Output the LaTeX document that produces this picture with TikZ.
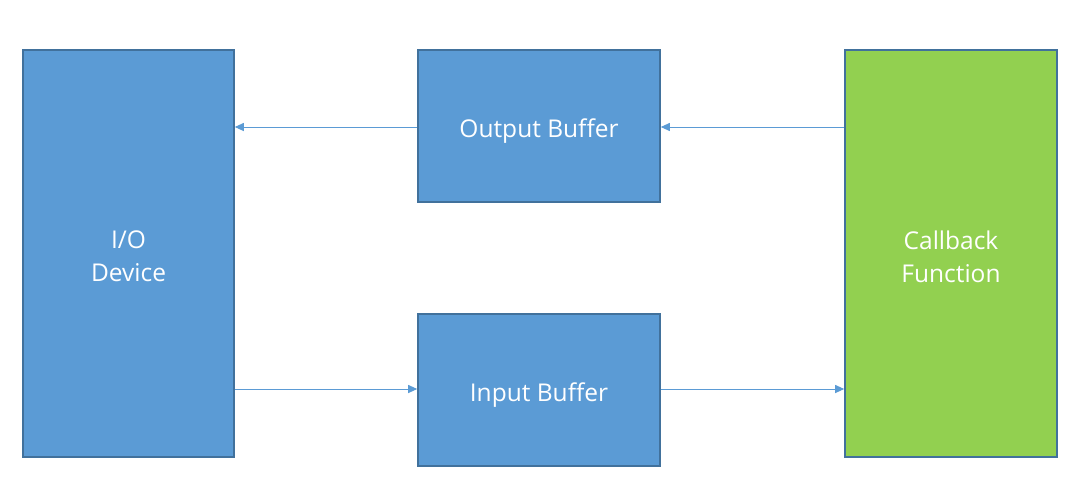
\documentclass[tikz,border=0pt]{standalone}
\usepackage{fontspec}
\setmainfont{Open Sans}[Ligatures=NoCommon]
\usetikzlibrary{arrows.meta}
\definecolor{boxblue}{HTML}{5B9BD5}
\definecolor{boxedge}{HTML}{41719C}
\definecolor{boxgreen}{HTML}{92D050}
\begin{document}
\begin{tikzpicture}[x=1pt,y=-1pt,
  blk/.style={draw=boxedge,line width=1.6pt,fill=boxblue,inner sep=0pt},
  txt/.style={text=white,align=center,font=\fontsize{24.5}{33}\selectfont,inner sep=0pt},
  conn/.style={draw=boxblue,line width=1pt,-{Triangle[length=9pt,width=8pt]}}]
\useasboundingbox (0,0) rectangle (1087,488);
\path[fill=white] (0,0) rectangle (1087,488);
\node[blk,minimum width=211pt,minimum height=407pt,
  label={[txt,yshift=-3pt]center:{I/O\\Device}}] (io) at (128.5,253.5) {};
\node[blk,minimum width=242pt,minimum height=152pt,
  label={[txt,yshift=-5pt]center:{Output Buffer}}] (ob) at (539,126) {};
\node[blk,minimum width=242pt,minimum height=152pt,
  label={[txt,yshift=-5pt]center:{Input Buffer}}] (ib) at (539,390) {};
\node[blk,fill=boxgreen,minimum width=212pt,minimum height=407pt,
  label={[txt,yshift=-3pt]center:{Callback\\Function}}] (cb) at (951,253.5) {};
\draw[conn] (ob.west |- 0,127) -- (io.east |- 0,127);
\draw[conn] (cb.west |- 0,127) -- (ob.east |- 0,127);
\draw[conn] (io.east |- 0,389) -- (ib.west |- 0,389);
\draw[conn] (ib.east |- 0,389) -- (cb.west |- 0,389);
\end{tikzpicture}
\end{document}
